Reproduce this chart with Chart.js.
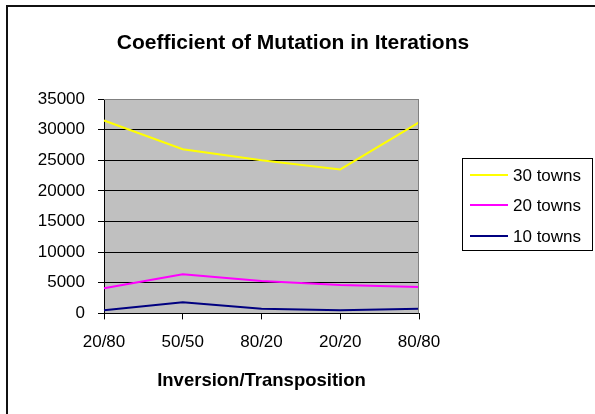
<!DOCTYPE html>
<html>
<head>
<meta charset="utf-8">
<script src="https://cdn.jsdelivr.net/npm/chart.js@4/dist/chart.umd.min.js"></script>
<style>
  html, body { margin: 0; padding: 0; background: #fff; }
  #wrap { width: 595px; height: 414px; position: relative; }
</style>
</head>
<body>
<div id="wrap"><canvas id="c" width="595" height="414"></canvas></div>
<script>
const categories = ['20/80', '50/50', '80/20', '20/20', '80/80'];
const towns30 = [31500, 26800, 25000, 23500, 31200];
const towns20 = [4100, 6400, 5300, 4650, 4300];
const towns10 = [500, 1800, 750, 500, 750];
const seriesLabels = ['30 towns', '20 towns', '10 towns'];
const seriesColors = ['#FFFF00', '#FF00FF', '#000080'];
const yMin = 0, yMax = 35000, yStep = 5000;
const chartTitle = 'Coefficient of Mutation in Iterations';
const xTitle = 'Inversion/Transposition';

const FONT = '"Liberation Sans", Arial, sans-serif';

const framePlugin = {
  id: 'frame',
  beforeDraw(chart) {
    const {ctx, chartArea: a} = chart;
    ctx.save();
    ctx.fillStyle = '#C0C0C0';
    ctx.fillRect(a.left, a.top, a.right - a.left, a.bottom - a.top);
    ctx.restore();
  },
  afterDatasetsDraw(chart) {
    const {ctx, chartArea: a} = chart;
    ctx.save();
    ctx.strokeStyle = '#808080';
    ctx.lineWidth = 1;
    ctx.beginPath();
    ctx.moveTo(a.left, a.top + 0.5);
    ctx.lineTo(a.right - 0.5, a.top + 0.5);
    ctx.lineTo(a.right - 0.5, a.bottom);
    ctx.stroke();
    ctx.restore();
  },
  afterDraw(chart) {
    const ctx = chart.ctx;
    ctx.save();
    // title
    ctx.fillStyle = '#000';
    ctx.font = 'bold 21px ' + FONT;
    ctx.textAlign = 'center';
    ctx.textBaseline = 'middle';
    ctx.fillText(chartTitle, 293, 43);
    // outer border
    ctx.strokeStyle = '#111';
    ctx.lineWidth = 2;
    ctx.strokeRect(7, 6, 800, 800);
    // legend
    const bx = 462.5, by = 158.5, bw = 130, bh = 92;
    ctx.fillStyle = '#fff';
    ctx.fillRect(bx, by, bw, bh);
    ctx.strokeStyle = '#000';
    ctx.lineWidth = 1;
    ctx.strokeRect(bx, by, bw, bh);
    const ys = [175, 205, 236];
    ctx.font = '17px ' + FONT;
    ctx.textBaseline = 'middle';
    ctx.textAlign = 'left';
    chart.data.datasets.forEach((ds, i) => {
      ctx.strokeStyle = ds.borderColor;
      ctx.lineWidth = 2;
      ctx.beginPath();
      ctx.moveTo(470, ys[i]);
      ctx.lineTo(508, ys[i]);
      ctx.stroke();
      ctx.fillStyle = '#000';
      ctx.fillText(ds.label, 513, ys[i] + 1);
    });
    ctx.restore();
  }
};

new Chart(document.getElementById('c'), {
  type: 'line',
  data: {
    labels: categories,
    datasets: [
      { label: seriesLabels[0], data: towns30, borderColor: seriesColors[0] },
      { label: seriesLabels[1], data: towns20, borderColor: seriesColors[1] },
      { label: seriesLabels[2], data: towns10, borderColor: seriesColors[2] }
    ].map(d => Object.assign(d, { borderWidth: 2, pointRadius: 0, tension: 0, fill: false }))
  },
  options: {
    responsive: false,
    animation: false,
    devicePixelRatio: 1,
    layout: { padding: { top: 99, left: 0, right: 176, bottom: 0 } },
    plugins: {
      legend: { display: false },
      tooltip: { enabled: false },
      title: { display: false }
    },
    scales: {
      x: {
        offset: false,
        grid: { display: true, drawOnChartArea: false, drawTicks: true, tickLength: 6, color: '#000' },
        border: { color: '#000', width: 1 },
        ticks: { color: '#000', font: { family: FONT, size: 17 }, padding: 13, maxRotation: 0, autoSkip: false },
        title: {
          display: true, text: xTitle, color: '#000',
          font: { family: FONT, size: 18.5, weight: 'bold' },
          padding: { top: 4, bottom: 22 }
        }
      },
      y: {
        min: yMin, max: yMax,
        afterFit(scale) { scale.width = 104; },
        grid: {
          color: ctx => (ctx.tick && ctx.tick.value === yMax) ? '#808080' : '#000',
          tickColor: '#000',
          tickLength: 6, lineWidth: 1
        },
        border: { color: '#000', width: 1 },
        ticks: {
          stepSize: yStep, color: '#000', padding: 13,
          font: { family: FONT, size: 17 },
          callback: v => String(v)
        }
      }
    }
  },
  plugins: [framePlugin]
});
</script>
</body>
</html>
